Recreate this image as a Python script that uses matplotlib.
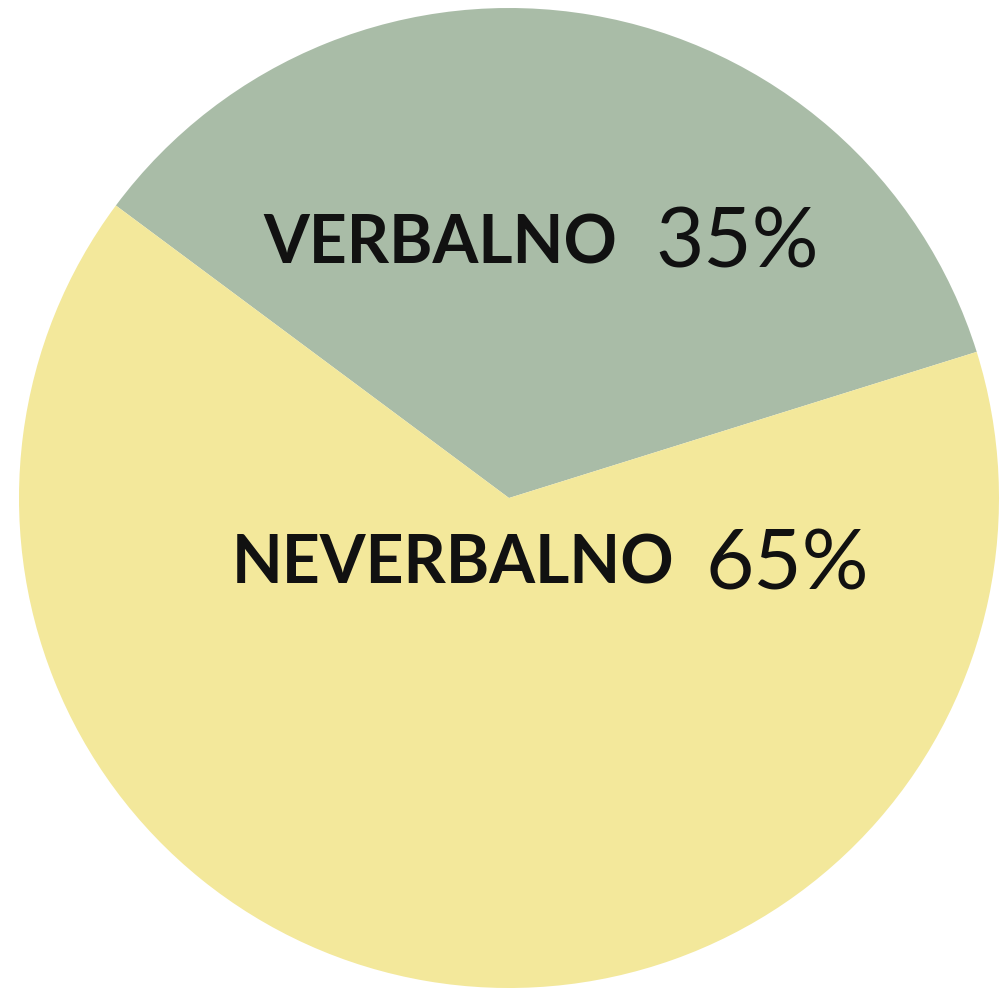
import matplotlib.pyplot as plt

# ── data ──────────────────────────────────────────────
labels = ["VERBALNO", "NEVERBALNO"]
values = [35, 65]
colors = ["#a9bca7", "#f3e89b"]

# ── figure: axes fills canvas, pie radius 1 at pixel centre (509, 498) ──
W, H, DPI = 1001, 997, 100
cx, cy, R = 509, 498, 490

fig = plt.figure(figsize=(W / DPI, H / DPI), dpi=DPI)
fig.patch.set_facecolor("white")
ax = fig.add_axes([0, 0, 1, 1])

mid = 80.35
start = mid - values[0] / sum(values) * 360 / 2
ax.pie(values, colors=colors, startangle=start, counterclock=True,
       radius=1, center=(0, 0), frame=True,
       wedgeprops=dict(linewidth=0))
ax.set_aspect("equal")
ax.set_xlim(-cx / R, (W - cx) / R)
ax.set_ylim(-(H - cy) / R, cy / R)
ax.axis("off")


def px(x, y):
    return (x - cx) / R, (cy - y) / R


# labels: bold name + regular percentage
font = "Lato"
pos = {"VERBALNO": ((263, 263), (655, 268)),
       "NEVERBALNO": ((232, 584), (705, 589))}
for lab, val in zip(labels, values):
    (nx, ny), (vx, vy) = pos[lab]
    ax.text(*px(nx, ny), lab, family=font, fontweight="bold", fontsize=47.5,
            color="#111111", ha="left", va="baseline")
    ax.text(*px(vx, vy), f"{val}%", family=font, fontsize=60,
            color="#111111", ha="left", va="baseline")

fig.savefig("out.png", dpi=DPI, facecolor="white")
